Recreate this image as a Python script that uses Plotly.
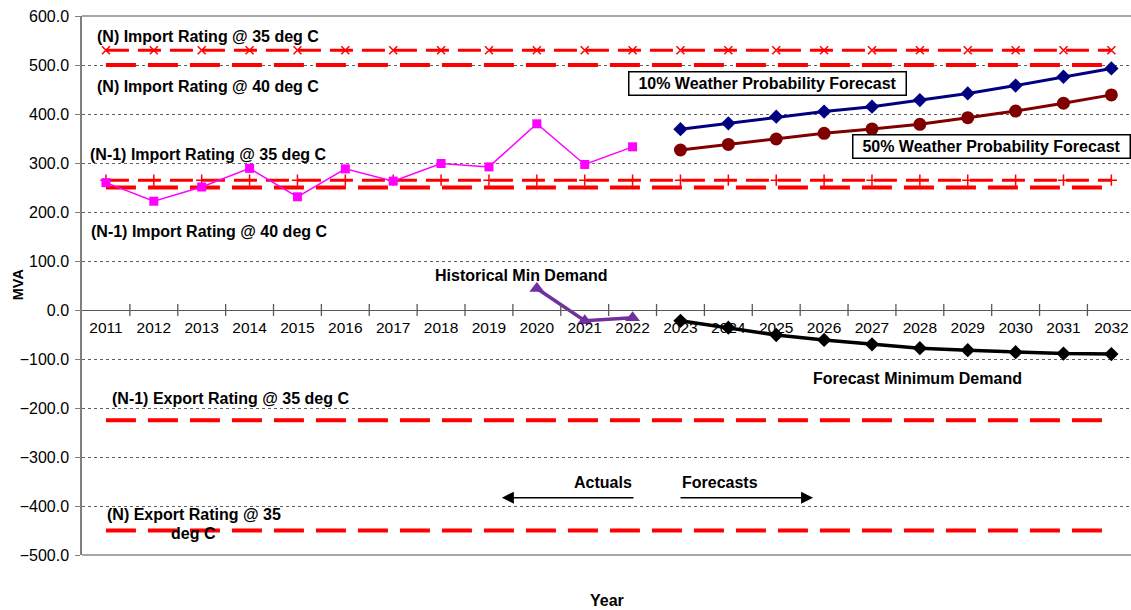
import plotly.graph_objects as go

# Categories
years = ["2011", "2012", "2013", "2014", "2015", "2016", "2017", "2018", "2019", "2020", "2021",
         "2022", "2023", "2024", "2025", "2026", "2027", "2028", "2029", "2030", "2031", "2032"]
actual_years = ["2011", "2012", "2013", "2014", "2015", "2016", "2017", "2018", "2019", "2020",
                "2021", "2022"]
forecast_years = ["2023", "2024", "2025", "2026", "2027", "2028", "2029", "2030", "2031", "2032"]
hist_min_years = ["2020", "2021", "2022"]

# Demand series (MVA)
actual_max_demand = [260, 222, 251, 289, 231, 288, 263, 299, 292, 380, 297, 333]
forecast_10_poe = [369, 381, 394.5, 405, 415, 428.5, 442, 458, 476, 493]
forecast_50_poe = [326.5, 338, 349, 360.5, 369.5, 379, 392.5, 406, 422, 439]
historical_min_demand = [44, -22, -16]
forecast_min_demand = [-22, -36, -51, -61, -70, -78, -82, -86, -89, -90]

# Ratings (MVA)
n_import_35 = 530
n_import_40 = 500
n1_import_35 = 265
n1_import_40 = 250
n1_export_35 = -225
n_export_35 = -450

Y_MIN, Y_MAX = -500, 600
X_RANGE = [-0.5, 21.41]

FONT = "Arial, Liberation Sans, sans-serif"
RED = "#FF0000"

fig = go.Figure()


def rating_line(value, width, dash, symbol=None):
    mode = "lines+markers" if symbol else "lines"
    marker = dict(symbol=symbol, size=8, color=RED, line=dict(color=RED, width=1.5)) if symbol else None
    fig.add_trace(go.Scatter(
        x=years, y=[value] * len(years), mode=mode,
        line=dict(color=RED, width=width, dash=dash),
        marker=marker, showlegend=False, hoverinfo="skip"))


rating_line(n_import_40, 4, "30px,12px")
rating_line(n_import_35, 3, "23px,9px", "x-thin")
rating_line(n1_import_40, 4, "30px,12px")
rating_line(n1_import_35, 3, "23px,9px", "cross-thin")
rating_line(n1_export_35, 4, "30px,12px")
rating_line(n_export_35, 4, "30px,12px")

# Actual maximum demand
fig.add_trace(go.Scatter(
    x=actual_years, y=actual_max_demand, mode="lines+markers",
    line=dict(color="#FF00FF", width=1.5),
    marker=dict(symbol="square", size=9, color="#FF00FF"), showlegend=False))

# Forecasts
fig.add_trace(go.Scatter(
    x=forecast_years, y=forecast_10_poe, mode="lines+markers",
    line=dict(color="#000080", width=3),
    marker=dict(symbol="diamond", size=11, color="#000080"), showlegend=False))
fig.add_trace(go.Scatter(
    x=forecast_years, y=forecast_50_poe, mode="lines+markers",
    line=dict(color="#800000", width=3),
    marker=dict(symbol="circle", size=13, color="#800000"), showlegend=False))

# Minimum demand
fig.add_trace(go.Scatter(
    x=hist_min_years, y=historical_min_demand, mode="lines+markers",
    line=dict(color="#7030A0", width=3.5),
    marker=dict(symbol="triangle-up", size=13, color="#7030A0"), showlegend=False))
fig.add_trace(go.Scatter(
    x=forecast_years, y=forecast_min_demand, mode="lines+markers",
    line=dict(color="#000000", width=3.5),
    marker=dict(symbol="diamond", size=11, color="#000000"), showlegend=False))

bold = dict(family=FONT, size=16, color="black", weight="bold")

labels = [
    ("(N) Import Rating @ 35 deg C", -0.22, 559),
    ("(N) Import Rating @ 40 deg C", -0.22, 456),
    ("(N-1) Import Rating @ 35 deg C", -0.38, 318),
    ("(N-1) Import Rating @ 40 deg C", -0.35, 161),
    ("Historical Min Demand", 6.84, 71),
    ("Forecast Minimum Demand", 14.72, -139),
    ("(N-1) Export Rating @ 35 deg C", 0.08, -180),
    ("Actuals", 9.74, -353),
    ("Forecasts", 12.0, -353),
]
annotations = []
for text, x, y in labels:
    annotations.append(dict(text=text, x=x, y=y, xref="x", yref="y", xanchor="left",
                            yanchor="middle", showarrow=False, font=bold))

# Two-line export label, centred
for text, y in [("(N) Export Rating @ 35", -418), ("deg C", -456)]:
    annotations.append(dict(text=text, x=1.835, y=y, xref="x", yref="y", xanchor="center",
                            yanchor="middle", showarrow=False, font=bold))

# Boxed forecast labels
for text, x, y in [("10% Weather Probability Forecast", 13.82, 463),
                   ("50% Weather Probability Forecast", 18.5, 334)]:
    annotations.append(dict(text=text, x=x, y=y, xref="x", yref="y", xanchor="center",
                            yanchor="middle", showarrow=False, font=bold, bgcolor="white",
                            bordercolor="black", borderwidth=1.5, borderpad=1, width=274,
                            height=20))

# Actuals / Forecasts arrows
annotations.append(dict(x=8.27, y=-383, ax=11.05, ay=-383, xref="x", yref="y", axref="x",
                        ayref="y", text="", showarrow=True, arrowhead=2, arrowsize=1.6,
                        arrowwidth=1.5, arrowcolor="black"))
annotations.append(dict(x=14.77, y=-383, ax=11.97, ay=-383, xref="x", yref="y", axref="x",
                        ayref="y", text="", showarrow=True, arrowhead=2, arrowsize=1.6,
                        arrowwidth=1.5, arrowcolor="black"))

# Axis titles
annotations.append(dict(text="MVA", x=-0.0607, y=0.503, xref="paper", yref="paper",
                        textangle=-90, showarrow=False, xanchor="center", yanchor="middle",
                        font=dict(family=FONT, size=14.5, color="black", weight="bold")))
annotations.append(dict(text="Year", x=0.5, y=-0.085, xref="paper", yref="paper",
                        showarrow=False, xanchor="center", yanchor="middle",
                        font=dict(family=FONT, size=16, color="black", weight="bold")))

# Frame lines and crossing tick marks on the category axis
shapes = [
    dict(type="line", xref="paper", yref="paper", x0=0, x1=1, y0=1, y1=1,
         line=dict(color="#a6a6a6", width=2), layer="below"),
    dict(type="line", xref="paper", yref="paper", x0=0, x1=1, y0=0, y1=0,
         line=dict(color="#a6a6a6", width=2), layer="below"),
]
for i in range(len(years) - 1):
    shapes.append(dict(type="line", xref="x", yref="y", x0=i + 0.5, x1=i + 0.5,
                       ysizemode="pixel", yanchor=0, y0=-6, y1=6,
                       line=dict(color="#595959", width=1.3)))

fig.update_layout(
    width=1131, height=610, autosize=False,
    margin=dict(l=82, r=0, t=16, b=55),
    plot_bgcolor="white", paper_bgcolor="white",
    showlegend=False,
    annotations=annotations,
    shapes=shapes,
    xaxis=dict(
        type="category", categoryorder="array", categoryarray=years,
        range=X_RANGE, anchor="free", position=(0 - Y_MIN) / (Y_MAX - Y_MIN),
        showline=True, linecolor="#595959", linewidth=1.3,
        ticks="outside", ticklen=6, tickcolor="rgba(0,0,0,0)", tickson="boundaries",
        ticklabelstandoff=3,
        showgrid=False, zeroline=False,
        tickfont=dict(family=FONT, size=15.5, color="black"),
        automargin=False,
    ),
    yaxis=dict(
        range=[Y_MIN, Y_MAX], dtick=100, tickformat=".1f",
        showline=True, linecolor="#7f7f7f", linewidth=1.5,
        ticks="outside", ticklen=5, tickcolor="#7f7f7f",
        ticklabelstandoff=3,
        showgrid=True, gridcolor="#606060", gridwidth=1, griddash="dot",
        zeroline=False,
        tickfont=dict(family=FONT, size=16, color="black"),
        automargin=False,
    ),
)

fig.write_html("out.html")
